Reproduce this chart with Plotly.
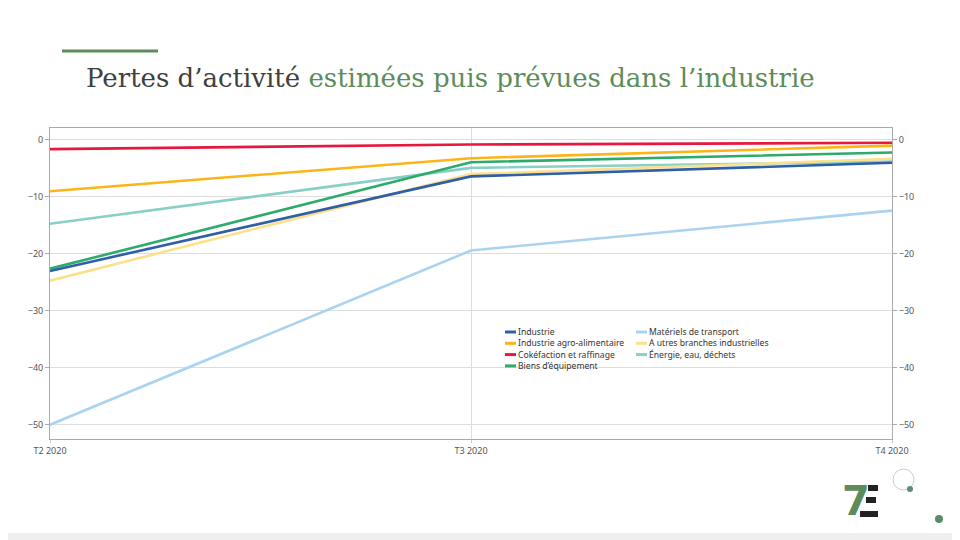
import plotly.graph_objects as go

quarters = ["T2 2020", "T3 2020", "T4 2020"]
series_names = [
    "Industrie",
    "Industrie agro-alimentaire",
    "Cokéfaction et raffinage",
    "Biens d’équipement",
    "Matériels de transport",
    "A utres branches industrielles",
    "Énergie, eau, déchets",
]
industrie = [-23.0, -6.4, -4.0]
agro = [-9.0, -3.2, -1.0]
cokefaction = [-1.6, -0.8, -0.5]
biens = [-22.6, -3.9, -2.2]
materiels = [-50.0, -19.4, -12.4]
autres = [-24.7, -6.0, -3.3]
energie = [-14.7, -4.9, -3.8]
series_values = [industrie, agro, cokefaction, biens, materiels, autres, energie]
colors = ["#2f5fa7", "#fbb516", "#e8173f", "#2daa6c", "#a9d3f0", "#fde08a", "#88cfc8"]
y_ticks = [0, -10, -20, -30, -40, -50]

OFF = 8  # page body margin
W, H = 960 - OFF, 540 - OFF
L, R, T, B = 50 - OFF, 892 - OFF, 128 - OFF, 439 - OFF


def px(x):
    return (x - OFF - L) / (R - L)


def py(y):
    return (B - (y - OFF)) / (B - T)


fig = go.Figure()
xs = list(range(len(quarters)))
draw_order = [4, 6, 5, 1, 3, 2, 0]
for i in draw_order:
    fig.add_trace(go.Scatter(
        x=xs, y=series_values[i], mode="lines", name=series_names[i],
        line=dict(color=colors[i], width=2.6),
        yaxis="y2" if i == 0 else "y",
        showlegend=False, hoverinfo="skip",
    ))

shapes = []
annotations = []
# slide background
shapes.append(dict(type="rect", xref="paper", yref="paper", layer="below",
                   x0=px(7), x1=px(953), y0=py(533), y1=py(7),
                   fillcolor="white", line=dict(width=0)))
# green bar above title
shapes.append(dict(type="line", xref="paper", yref="paper",
                   x0=px(62), x1=px(158), y0=py(51), y1=py(51),
                   line=dict(color="#5b8c5a", width=3)))
# title
annotations.append(dict(
    xref="paper", yref="paper", x=px(84), y=py(78), xanchor="left", yanchor="middle",
    showarrow=False,
    text="<span style='color:#404040'>Pertes d’activité </span>"
         "<span style='color:#5b8c5a'>estimées puis prévues dans l’industrie</span>",
    font=dict(family="DejaVu Serif", size=26),
))

# legend (two columns)
leg_cols = [[0, 1, 2, 3], [4, 5, 6]]
col_x = [505, 636]
for c, idxs in enumerate(leg_cols):
    for r, i in enumerate(idxs):
        yy = 332 + r * 11.3
        shapes.append(dict(type="line", xref="paper", yref="paper",
                           x0=px(col_x[c]), x1=px(col_x[c] + 11), y0=py(yy), y1=py(yy),
                           line=dict(color=colors[i], width=3)))
        annotations.append(dict(xref="paper", yref="paper", x=px(col_x[c] + 12), y=py(yy),
                                xanchor="left", yanchor="middle", showarrow=False,
                                borderpad=0,
                                text=series_names[i],
                                font=dict(family="Noto Sans", size=8.6, color="#333333")))

# logo
annotations.append(dict(xref="paper", yref="paper", x=px(856), y=py(501),
                        xanchor="center", yanchor="middle", showarrow=False,
                        text="<b>7</b>", font=dict(family="DejaVu Sans", size=40, color="#5b8c5a")))
shapes.append(dict(type="rect", xref="paper", yref="paper", x0=px(868), x1=px(878),
                   y0=py(491), y1=py(485), fillcolor="#222222", line=dict(width=0)))
shapes.append(dict(type="rect", xref="paper", yref="paper", x0=px(866), x1=px(876),
                   y0=py(503), y1=py(497), fillcolor="#222222", line=dict(width=0)))
shapes.append(dict(type="rect", xref="paper", yref="paper", x0=px(860), x1=px(878),
                   y0=py(517), y1=py(511), fillcolor="#222222", line=dict(width=0)))
shapes.append(dict(type="circle", xref="paper", yref="paper", x0=px(893), x1=px(914),
                   y0=py(490), y1=py(469), line=dict(color="#cccccc", width=1)))
shapes.append(dict(type="circle", xref="paper", yref="paper", x0=px(907), x1=px(913),
                   y0=py(492), y1=py(486), fillcolor="#5b8c7a", line=dict(width=0)))
shapes.append(dict(type="circle", xref="paper", yref="paper", x0=px(935), x1=px(943),
                   y0=py(523), y1=py(515), fillcolor="#5b8c6a", line=dict(width=0)))

axis_font = dict(family="Noto Sans", size=9, color="#555555")
fig.update_layout(
    width=W, height=H,
    margin=dict(l=L, r=W - R, t=T, b=H - B, pad=0),
    paper_bgcolor="#efefef", plot_bgcolor="white",
    showlegend=False,
    shapes=shapes, annotations=annotations,
    xaxis=dict(range=[0, 2], tickvals=xs, ticktext=quarters, showgrid=True,
               gridcolor="#dddddd", gridwidth=1, showline=True, linecolor="#aaaaaa",
               linewidth=1, mirror=True, ticks="outside", ticklen=3, tickcolor="#cccccc",
               tickfont=axis_font, zeroline=False, fixedrange=True),
    yaxis=dict(range=[-52.5, 2.1], tickvals=y_ticks, showgrid=True, gridcolor="#dddddd",
               gridwidth=1, showline=True, linecolor="#aaaaaa", linewidth=1,
               ticks="outside", ticklen=4, tickcolor="#aaaaaa", tickfont=axis_font,
               zeroline=False, tickformat="d"),
    yaxis2=dict(range=[-52.5, 2.1], matches="y", overlaying="y", side="right",
                tickvals=y_ticks, showgrid=False, showline=True, linecolor="#aaaaaa",
                linewidth=1, ticks="outside", ticklen=4, tickcolor="#aaaaaa",
                tickfont=axis_font, zeroline=False, tickformat="d"),
)

fig.write_html("out.html")
